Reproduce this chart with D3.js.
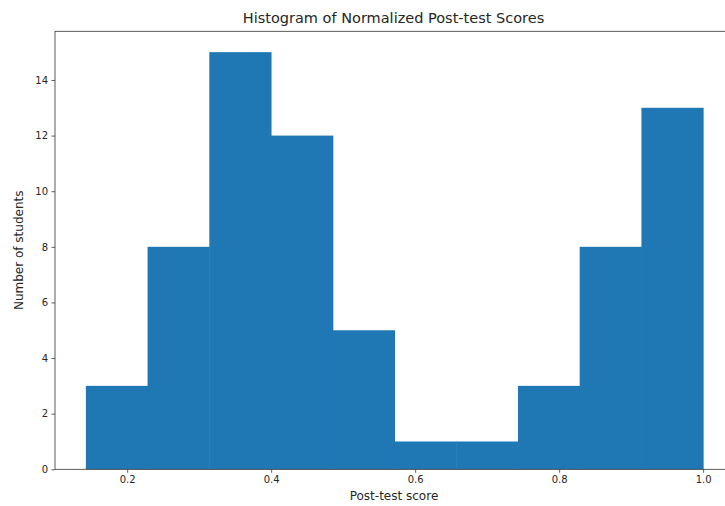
<!DOCTYPE html>
<html><head><meta charset="utf-8">
<script src="https://cdn.jsdelivr.net/npm/d3@7"></script>
<style>body{margin:0;background:#fff}svg{display:block;overflow:hidden}text{font-family:"DejaVu Sans",sans-serif;fill:#262626}</style>
</head><body>
<script>
const binEdges = [0.1426, 0.2283, 0.3141, 0.3998, 0.4856, 0.5713, 0.6570, 0.7428, 0.8285, 0.9143, 1.0];
const counts = [3, 8, 15, 12, 5, 1, 1, 3, 8, 13];
const xTicks = [0.2, 0.4, 0.6, 0.8, 1.0];
const yTicks = [0, 2, 4, 6, 8, 10, 12, 14];
const title = "Histogram of Normalized Post-test Scores";
const xLabel = "Post-test score";
const yLabel = "Number of students";

const W = 725, H = 506;
const m = {left: 55, top: 31.3, right: 734, bottom: 469.3};
const svg = d3.select("body").append("svg").attr("width", W).attr("height", H);

const xmin = binEdges[0], xmax = binEdges[binEdges.length - 1];
const pad = (xmax - xmin) * 0.05;
const x = d3.scaleLinear().domain([xmin - pad, xmax + pad]).range([m.left, m.right]);
const ymax = d3.max(counts) * 1.05;
const y = d3.scaleLinear().domain([0, ymax]).range([m.bottom, m.top]);

const bins = counts.map((c, i) => ({x0: binEdges[i], x1: binEdges[i + 1], c}));
svg.append("g").selectAll("rect").data(bins).join("rect")
  .attr("x", d => x(d.x0)).attr("width", d => x(d.x1) - x(d.x0) + 0.5)
  .attr("y", d => y(d.c)).attr("height", d => y(0) - y(d.c))
  .attr("fill", "#1f77b4");

const xAxis = d3.axisBottom(x).tickValues(xTicks).tickFormat(d3.format(".1f")).tickSize(3.5).tickPadding(3.5);
const gx = svg.append("g").attr("transform", `translate(0,${m.bottom})`).call(xAxis);
const yAxis = d3.axisLeft(y).tickValues(yTicks).tickFormat(d3.format("d")).tickSize(3.5).tickPadding(3.5);
const gy = svg.append("g").attr("transform", `translate(${m.left},0)`).call(yAxis);
[gx, gy].forEach(g => {
  g.select(".domain").remove();
  g.selectAll(".tick line").attr("stroke", "#333").attr("stroke-width", 0.8);
  g.selectAll(".tick text").attr("font-size", 10).attr("fill", "#262626").style("font-family", '"DejaVu Sans", sans-serif');
});

svg.append("rect").attr("x", m.left).attr("y", m.top)
  .attr("width", m.right - m.left).attr("height", m.bottom - m.top)
  .attr("fill", "none").attr("stroke", "#333").attr("stroke-width", 0.8);

svg.append("text").attr("x", 393.5).attr("y", 23.3)
  .attr("text-anchor", "middle").attr("font-size", 14.5).text(title);
svg.append("text").attr("x", 394).attr("y", 500)
  .attr("text-anchor", "middle").attr("font-size", 12).text(xLabel);
svg.append("text").attr("transform", `translate(23,${(m.top + m.bottom) / 2}) rotate(-90)`)
  .attr("text-anchor", "middle").attr("font-size", 12).text(yLabel);
</script>
</body></html>
